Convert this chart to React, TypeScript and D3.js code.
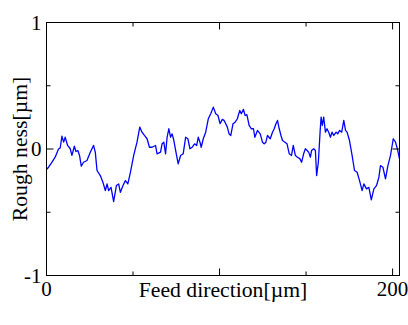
import React from "react";
import * as d3 from "d3";

// Feed direction [µm]
const xs: number[] = [
  0, 1.2, 3.1, 5.0, 7.0, 7.9, 8.9, 9.9, 10.8, 12.2, 13.7, 14.7, 16.1, 17.0, 18.1, 19.1, 20.1, 21.4, 23.4, 25.3,
  27.2, 28.2, 29.2, 31.1, 32.6, 34.0, 35.0, 35.9, 37.3, 38.8, 40.4, 41.7, 42.7, 44.2, 45.6, 47.0, 48.5, 50.4, 52.3, 53.9,
  55.2, 56.6, 58.1, 59.5, 61.0, 63.0, 63.9, 65.9, 66.8, 67.8, 68.8, 69.7, 70.7, 71.7, 72.6, 73.6, 75.0, 76.1, 77.5, 79.0,
  80.4, 81.7, 82.9, 84.2, 85.6, 86.8, 87.7, 88.7, 89.4, 90.6, 92.0, 93.5, 94.9, 96.4, 97.8, 99.1, 100.3, 101.6, 102.6, 103.6,
  104.5, 105.5, 106.5, 107.8, 109.0, 110.3, 111.7, 112.6, 113.8, 114.8, 115.8, 117.1, 118.4, 119.6, 120.4, 121.9, 123.5, 124.8, 125.8, 126.8,
  127.7, 129.3, 130.6, 131.6, 132.6, 133.5, 134.5, 135.5, 136.4, 137.8, 139.0, 140.3, 141.6, 142.6, 143.8, 145.1, 146.5, 147.4, 148.6, 149.6,
  150.6, 151.5, 152.5, 153.2, 154.4, 155.4, 156.1, 157.1, 158.1, 158.7, 159.4, 160.2, 161.2, 162.1, 163.1, 164.1, 165.0, 166.0, 167.4, 168.3,
  169.4, 170.6, 171.8, 172.8, 173.7, 175.1, 176.6, 178.0, 179.5, 180.9, 182.4, 183.4, 184.9, 186.3, 187.7, 189.2, 190.7, 192.1, 193.0, 194.4,
  195.9, 197.3, 198.8, 200.4, 201.7, 203.0, 204.0,
];

// Roughness [µm]
const ys: number[] = [
  -0.162, -0.144, -0.105, -0.065, 0.002, 0.006, 0.101, 0.054, 0.093, 0.028, 0.002, -0.051, 0.022, -0.02, -0.012, -0.051, -0.136, -0.105, -0.091, -0.025,
  0.028, -0.025, -0.17, -0.21, -0.263, -0.329, -0.276, -0.329, -0.303, -0.416, -0.289, -0.276, -0.342, -0.289, -0.25, -0.276, -0.184, -0.051, 0.054, 0.173,
  0.133, 0.107, 0.081, 0.014, 0.014, 0.028, -0.038, -0.025, 0.041, 0.054, -0.038, 0.093, 0.16, 0.093, 0.12, 0.067, -0.038, -0.117, -0.051, -0.038,
  0.093, 0.081, 0.002, 0.014, 0.041, 0.028, 0.093, 0.054, 0.014, 0.081, 0.133, 0.239, 0.279, 0.331, 0.279, 0.265, 0.2, 0.234, 0.226, 0.2,
  0.173, 0.12, 0.107, 0.2, 0.212, 0.239, 0.305, 0.279, 0.313, 0.265, 0.271, 0.186, 0.16, 0.16, 0.093, 0.147, 0.12, 0.054, 0.041, 0.054,
  0.107, 0.081, 0.133, 0.16, 0.2, 0.226, 0.16, 0.107, 0.067, 0.054, 0.041, -0.038, -0.051, 0.028, -0.051, -0.065, -0.078, -0.105, -0.038, 0.002,
  -0.012, -0.025, -0.065, -0.012, 0.002, -0.012, -0.21, -0.105, 0.133, 0.252, 0.186, 0.252, 0.133, 0.16, 0.133, 0.093, 0.133, 0.107, 0.133, 0.12,
  0.147, 0.133, 0.226, 0.147, 0.133, 0.067, -0.051, -0.17, -0.184, -0.25, -0.329, -0.276, -0.315, -0.303, -0.402, -0.315, -0.289, -0.223, -0.131, -0.144,
  -0.236, -0.131, -0.051, 0.081, 0.054, -0.012, -0.078,
];

const xMajor = [0, 100, 200];
const xMinor = [50, 150];
const xLabels = ["0", "200"];
const xLabelVals = [0, 200];
const yMajor = [-1, 0, 1];
const yMinor = [-0.5, 0.5];
const yLabels = ["-1", "0", "1"];

const W = 408;
const H = 325;
const L = 46.5, R = 399.5, T = 22.5, B = 275.5;

export default function App() {
  const x = d3.scaleLinear().domain([0, 204]).range([L, R]);
  const y = d3.scaleLinear().domain([-1, 1]).range([B, T]);
  const data = xs.map((v, i) => [v, ys[i]] as [number, number]);
  const line = d3.line<[number, number]>().x((d) => x(d[0])).y((d) => y(d[1]));
  const font = "'Liberation Serif', 'Times New Roman', serif";
  const major = 7, minor = 4;
  return (
    <svg width={W} height={H} style={{ position: "absolute", left: 0, top: 0 }}>
      <rect width={W} height={H} fill="#fff" />
      <path d={line(data) || ""} fill="none" stroke="#0000ff" strokeWidth={1.3} strokeLinejoin="round" />
      <g stroke="#000" strokeWidth={1} fill="none">
        <rect x={L} y={T} width={R - L} height={B - T} />
        {xMajor.map((v) => (
          <g key={"xm" + v}>
            <line x1={x(v)} x2={x(v)} y1={B} y2={B - major} />
            <line x1={x(v)} x2={x(v)} y1={T} y2={T + major} />
          </g>
        ))}
        {xMinor.map((v) => (
          <g key={"xn" + v}>
            <line x1={x(v)} x2={x(v)} y1={B} y2={B - minor} />
            <line x1={x(v)} x2={x(v)} y1={T} y2={T + minor} />
          </g>
        ))}
        {yMajor.map((v) => (
          <g key={"ym" + v}>
            <line x1={L} x2={L + major} y1={y(v)} y2={y(v)} />
            <line x1={R} x2={R - major} y1={y(v)} y2={y(v)} />
          </g>
        ))}
        {yMinor.map((v) => (
          <g key={"yn" + v}>
            <line x1={L} x2={L + minor} y1={y(v)} y2={y(v)} />
            <line x1={R} x2={R - minor} y1={y(v)} y2={y(v)} />
          </g>
        ))}
      </g>
      <g fontFamily={font} fill="#000">
        {xLabelVals.map((v, i) => (
          <text key={"xl" + v} x={x(v)} y={B + 20} textAnchor="middle" fontSize={21}>
            {xLabels[i]}
          </text>
        ))}
        {yMajor.map((v, i) => (
          <text key={"yl" + v} x={L - 5} y={y(v) + 7} textAnchor="end" fontSize={21}>
            {yLabels[i]}
          </text>
        ))}
        <text x={223} y={B + 21} textAnchor="middle" fontSize={21.7}>
          Feed direction[µm]
        </text>
        <text transform={`translate(27,${(T + B) / 2}) rotate(-90)`} textAnchor="middle" fontSize={21.7}>
          Rough ness[µm]
        </text>
      </g>
    </svg>
  );
}
